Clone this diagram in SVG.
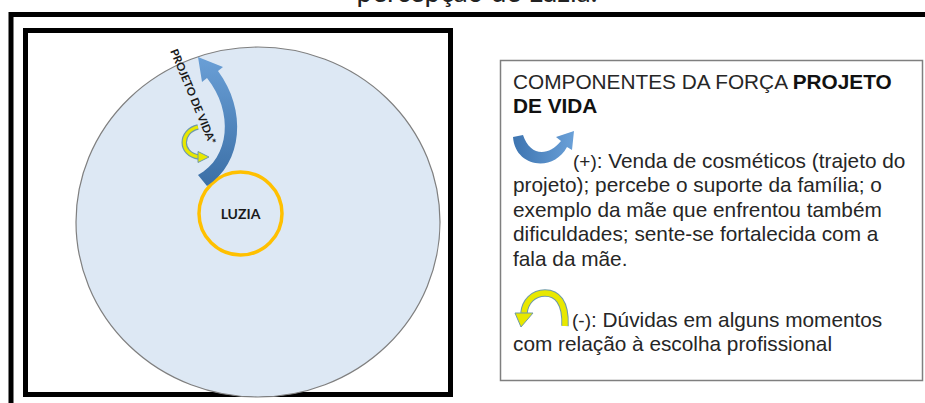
<svg xmlns="http://www.w3.org/2000/svg" width="925" height="403" viewBox="0 0 925 403">
<style>
.frame{fill:none;stroke:#000;stroke-width:5}
.leg{font-family:"Liberation Sans",Arial,sans-serif;font-size:20.8px;fill:#262626}
.b{font-weight:bold;fill:#111}
.cal{font-family:Lato,"Open Sans",sans-serif;font-weight:bold;fill:#1a1a1a}
</style>
<defs>
<linearGradient id="blue" x1="0" y1="1" x2="0" y2="0">
<stop offset="0" stop-color="#3b6fa6"/>
<stop offset="1" stop-color="#6a9fd6"/>
</linearGradient>
<linearGradient id="blueh" x1="0" y1="0" x2="1" y2="0">
<stop offset="0" stop-color="#3d74b0"/>
<stop offset="1" stop-color="#6aa0d8"/>
</linearGradient>
</defs>
<text x="477" y="2" text-anchor="middle" font-family="Lato,'Open Sans',sans-serif" font-size="28" fill="#222">percepção de Luzia.</text>
<g id="frames">
<line class="frame" x1="11" y1="14.5" x2="925" y2="14.5"/>
<line class="frame" x1="11" y1="12" x2="11" y2="403"/>
<rect class="frame" x="25.5" y="30.5" width="425" height="364"/>
</g>
<g id="field">
<ellipse cx="258" cy="222" rx="182" ry="175" fill="#dde8f4" stroke="#7f7f7f" stroke-width="1.2"/>
</g>
<g id="luzia">
<circle cx="240.5" cy="213.5" r="41.5" fill="none" stroke="#ffc000" stroke-width="3.5"/>
<text class="cal" x="240.5" y="219" text-anchor="middle" font-size="14">LUZIA</text>
</g>
<g id="projeto">
<path d="M207,186 C243,163 247,110 218,71 L223,67 L198,57 L202,82 L207,78 C234,112 230,158 198,175 Z" fill="url(#blue)"/>
<text class="cal" font-size="11" textLength="102" lengthAdjust="spacingAndGlyphs" transform="translate(170,51) rotate(67.5)">PROJETO DE VIDA*</text>
<path d="M198,127 C180,131 179,154 199,157" fill="none" stroke="#6f9aa8" stroke-width="5.5"/>
<path d="M198,127 C180,131 179,154 199,157" fill="none" stroke="#e8e800" stroke-width="3.2"/>
<path d="M198,151.5 L209,157 L198,162.5 Z" fill="#e8e800" stroke="#6f9aa8" stroke-width="1"/>
</g>
<g id="legend">
<rect x="500.5" y="60.5" width="422" height="320" fill="#fff" stroke="#7f7f7f" stroke-width="1.5"/>
<text class="leg" x="513" y="89">COMPONENTES DA FORÇA <tspan class="b">PROJETO</tspan></text>
<text class="leg b" x="513" y="113">DE VIDA</text>
<path d="M513,137 C515,167 553,173 567,147 L572,150 L574,131 L556,137 L561,141 C548,157 530,156 523,135 Z" fill="url(#blueh)"/>
<text class="leg" x="573" y="168"><tspan font-size="19">(+)</tspan>: Venda de cosméticos (trajeto do</text>
<text class="leg" x="513" y="192">projeto); percebe o suporte da família; o</text>
<text class="leg" x="513" y="217">exemplo da mãe que enfrentou também</text>
<text class="leg" x="513" y="241">dificuldades; sente-se fortalecida com a</text>
<text class="leg" x="513" y="266">fala da mãe.</text>
<path d="M565,326 C566,302 557,293 545,293 C533,293 525,302 524,313" fill="none" stroke="#6f9aa8" stroke-width="7.5"/>
<path d="M565,326 C566,302 557,293 545,293 C533,293 525,302 524,313" fill="none" stroke="#e8e800" stroke-width="5.5"/>
<path d="M515,313 L533,313 L521,327 Z" fill="#e8e800" stroke="#6f9aa8" stroke-width="1"/>
<text class="leg" x="572" y="327"><tspan font-size="19">(-)</tspan>: Dúvidas em alguns momentos</text>
<text class="leg" x="513" y="351">com relação à escolha profissional</text>
</g>
</svg>
